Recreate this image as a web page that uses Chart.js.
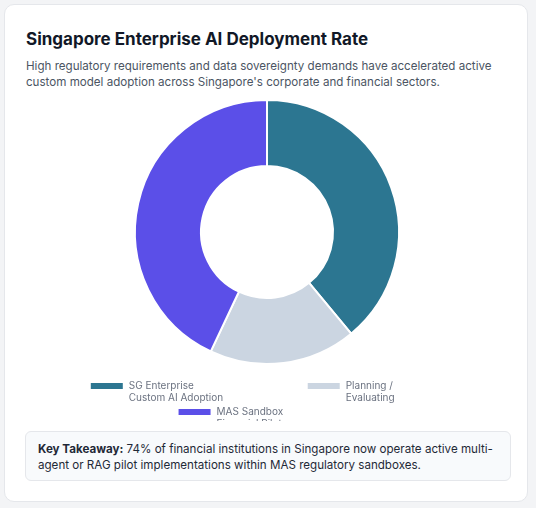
<!DOCTYPE html>
<html><head><meta charset="utf-8">
<script src="https://cdn.jsdelivr.net/npm/chart.js@4"></script>
<style>
body{margin:0;background:#f3f4f6;font-family:Inter,sans-serif;}
.card{position:absolute;left:4px;top:4px;width:524px;height:498px;background:#fff;border:1px solid #e5e7eb;border-radius:10px;box-sizing:border-box;}
h1{position:absolute;left:21px;top:24px;margin:0;font-size:17px;font-weight:700;color:#111827;}
p.sub{position:absolute;left:21px;top:53px;width:490px;margin:0;font-size:11.6px;line-height:16px;color:#4b5563;}
.wrap{position:absolute;left:20px;top:92px;width:484px;height:324px;overflow:hidden;}
.note{position:absolute;left:20px;top:426px;width:486px;height:50px;background:#f8fafc;border:1px solid #e5e7eb;border-radius:6px;box-sizing:border-box;padding:9px 12px;font-size:11.6px;line-height:16px;color:#1f2937;}
</style></head><body>
<div class="card">
<h1>Singapore Enterprise AI Deployment Rate</h1>
<p class="sub">High regulatory requirements and data sovereignty demands have accelerated active custom model adoption across Singapore's corporate and financial sectors.</p>
<div class="wrap"><canvas id="c" width="484" height="330"></canvas></div>
<div class="note"><b>Key Takeaway:</b> 74% of financial institutions in Singapore now operate active multi-agent or RAG pilot implementations within MAS regulatory sandboxes.</div>
</div>
<script>
const labels = [['SG Enterprise', 'Custom AI Adoption'], ['Planning /', 'Evaluating'], ['MAS Sandbox', 'Financial Pilots']];
const values = [39, 18, 43];
const colors = ['#2c7691', '#cbd5e1', '#5b4fe8'];

new Chart(document.getElementById('c'), {
  type: 'doughnut',
  data: { labels: labels, datasets: [{ data: values, backgroundColor: colors, borderColor: '#fff', borderWidth: 2 }] },
  options: {
    responsive: false,
    animation: false,
    cutout: '50%',
    layout: { padding: { top: 2 } },
    plugins: {
      legend: {
        position: 'bottom',
        labels: { boxWidth: 34, boxHeight: 8, padding: 16, color: '#6b7280', font: { family: 'Inter', size: 10 } }
      },
      tooltip: { enabled: false }
    }
  }
});
</script>
</body></html>
